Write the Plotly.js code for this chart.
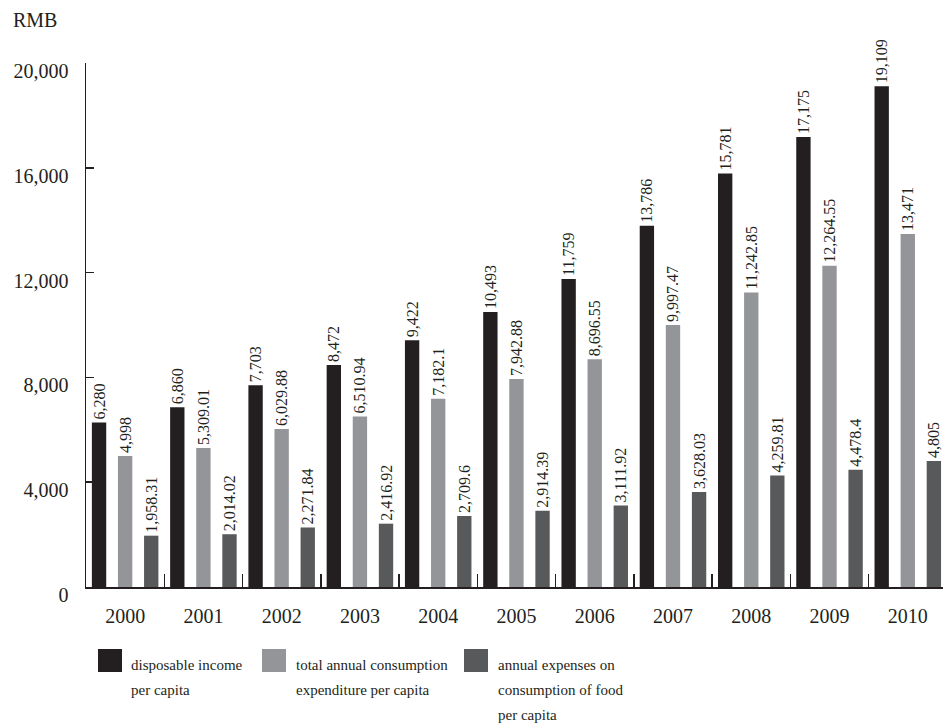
<!DOCTYPE html>
<html>
<head>
<meta charset="utf-8">
<script src="https://cdn.plot.ly/plotly-3.0.1.min.js"></script>
<style>html,body{margin:0;padding:0;background:#fff;}#chart{width:943px;height:723px;}</style>
</head>
<body>
<div id="chart"></div>
<script>
var years = ['2000','2001','2002','2003','2004','2005','2006','2007','2008','2009','2010'];
var disposableIncome = [6280, 6860, 7703, 8472, 9422, 10493, 11759, 13786, 15781, 17175, 19109];
var totalConsumption = [4998, 5309.01, 6029.88, 6510.94, 7182.1, 7942.88, 8696.55, 9997.47, 11242.85, 12264.55, 13471];
var foodExpenses = [1958.31, 2014.02, 2271.84, 2416.92, 2709.6, 2914.39, 3111.92, 3628.03, 4259.81, 4478.4, 4805];
var seriesNames = ['disposable income<br>per capita', 'total annual consumption<br>expenditure per capita', 'annual expenses on<br>consumption of food<br>per capita'];
var yTicks = [0, 4000, 8000, 12000, 16000, 20000];

var FONT = 'Liberation Serif, Times New Roman, Times, serif';
var INK = '#231f20';
var colors = ['#231f20', '#939598', '#58595b'];

function fmt(v){ return v.toLocaleString('en-US', {maximumFractionDigits: 2}); }

var series = [disposableIncome, totalConsumption, foodExpenses];
var traces = series.map(function(vals, i){
  return {
    type: 'bar',
    x: years,
    y: vals,
    name: seriesNames[i].replace(/<br>/g, ' '),
    marker: {color: colors[i], line: {width: 0}},
    text: vals.map(fmt),
    textposition: 'outside',
    textangle: -90,
    constraintext: 'none',
    cliponaxis: false,
    textfont: {family: FONT, size: 16, color: INK},
    hoverinfo: 'x+y'
  };
});

// layout geometry (pixels)
var W = 943, H = 723, L = 86, R = 0, T = 63, B = 136;
var pw = W - L - R, ph = H - T - B;
function px(x){ return (x - L) / pw; }
function py(y){ return (H - B - y) / ph; }

var shapes = [];
var annotations = [{
  text: 'RMB', xref: 'paper', yref: 'paper', x: px(11), y: py(20),
  xanchor: 'left', yanchor: 'middle', showarrow: false,
  font: {family: FONT, size: 20, color: INK}
}];
var legendSquareX = [98, 262, 464];
var legendTextX = [129, 294, 496];
seriesNames.forEach(function(n, i){
  shapes.push({type: 'rect', xref: 'paper', yref: 'paper',
    x0: px(legendSquareX[i]), x1: px(legendSquareX[i] + 24),
    y0: py(649), y1: py(672), fillcolor: colors[i], line: {width: 0}});
  n.split('<br>').forEach(function(line, j){
    annotations.push({text: line, xref: 'paper', yref: 'paper',
      x: px(legendTextX[i]), y: py(665 + 25 * j), xanchor: 'left', yanchor: 'middle',
      showarrow: false, font: {family: FONT, size: 15, color: INK}});
  });
});

var layout = {
  width: W, height: H,
  margin: {l: L, r: R, t: T, b: B, pad: 0},
  paper_bgcolor: '#fff', plot_bgcolor: '#fff',
  barmode: 'group', bargap: 0, bargroupgap: 0.45,
  showlegend: false,
  font: {family: FONT, color: INK},
  xaxis: {
    type: 'category', range: [-0.5, 10.45],
    showline: true, linecolor: INK, linewidth: 1.5,
    ticks: 'inside', tickson: 'boundaries', ticklen: 13, tickwidth: 1.5, tickcolor: INK,
    ticklabelstandoff: 10,
    tickfont: {family: FONT, size: 20, color: INK},
    showgrid: false, zeroline: false, fixedrange: true
  },
  yaxis: {
    range: [0, 20000],
    tickvals: yTicks, ticktext: yTicks.map(fmt),
    showline: true, linecolor: INK, linewidth: 1.5,
    ticks: 'inside', ticklen: 8, tickwidth: 1.5, tickcolor: INK,
    ticklabelstandoff: 12, ticklabelshift: 8,
    tickfont: {family: FONT, size: 20, color: INK},
    showgrid: false, zeroline: false, fixedrange: true
  },
  shapes: shapes,
  annotations: annotations
};

Plotly.newPlot('chart', traces, layout, {displayModeBar: false, staticPlot: true});
</script>
</body>
</html>
